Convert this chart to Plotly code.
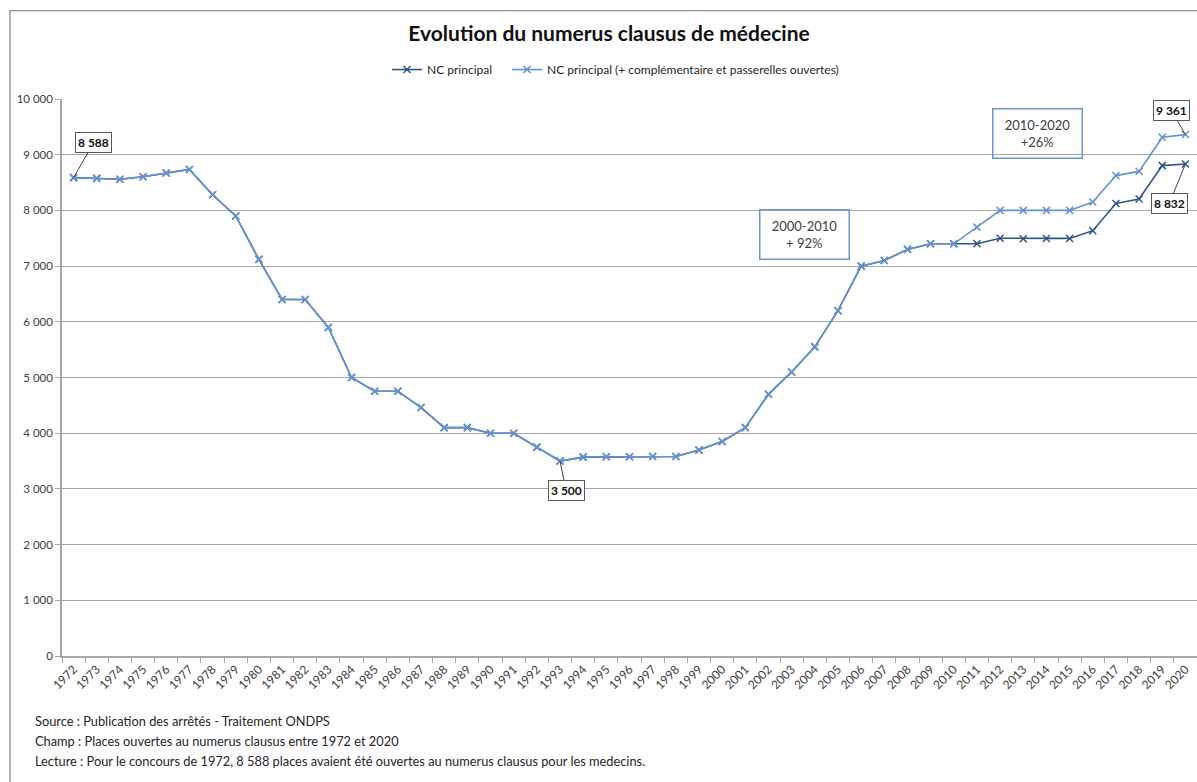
import plotly.graph_objects as go

# Années du concours
years = [str(y) for y in range(1972, 2021)]

# NC principal
nc_principal = [
    8588, 8575, 8560, 8605, 8670, 8735, 8280, 7900, 7121, 6400,
    6400, 5900, 5000, 4754, 4754, 4460, 4100, 4100, 4000, 4000,
    3750, 3500, 3570, 3576, 3576, 3583, 3583, 3700, 3850, 4100,
    4700, 5100, 5550, 6200, 7000, 7100, 7300, 7400, 7400, 7400,
    7500, 7492, 7497, 7497, 7636, 8124, 8205, 8804, 8832,
]

# NC principal + complémentaire et passerelles ouvertes
nc_total = [
    8588, 8575, 8560, 8605, 8670, 8735, 8280, 7900, 7121, 6400,
    6400, 5900, 5000, 4754, 4754, 4460, 4100, 4100, 4000, 4000,
    3750, 3500, 3570, 3576, 3576, 3583, 3583, 3700, 3850, 4100,
    4700, 5100, 5550, 6200, 7000, 7100, 7300, 7400, 7400, 7700,
    8000, 8000, 8000, 8000, 8150, 8625, 8700, 9314, 9361,
]

y_ticks = list(range(0, 10001, 1000))

DARK = "#2F5688"
LIGHT = "#6592D3"
FONT = "Lato"


def fmt(v):
    return f"{v:,}".replace(",", " ")


fig = go.Figure()
fig.add_trace(go.Scatter(
    x=years, y=nc_principal, name="NC principal", mode="lines+markers",
    line=dict(color=DARK, width=1.6), legend="legend", showlegend=True,
    marker=dict(symbol="x-thin", size=7, line=dict(width=1.5, color=DARK)),
))
fig.add_trace(go.Scatter(
    x=years, y=nc_total,
    name="NC principal (+ complémentaire et passerelles ouvertes)",
    mode="lines+markers", legend="legend2", showlegend=True,
    line=dict(color=LIGHT, width=1.6),
    marker=dict(symbol="x-thin", size=7, line=dict(width=1.5, color=LIGHT)),
))

# Étiquettes de valeurs avec trait de rappel (x = rang de la catégorie)
i_min = nc_total.index(min(nc_total))
labels = [
    (0, nc_total[0], 20, -35),
    (i_min, nc_total[i_min], 6, 29),
    (len(years) - 1, nc_total[-1], -14, -24),
    (len(years) - 1, nc_principal[-1], -16, 39),
]
annotations = []
for x, v, ax, ay in labels:
    annotations.append(dict(
        x=x, y=v, xref="x", yref="y", text=f"<b>{fmt(v)}</b>",
        showarrow=True, arrowhead=0, arrowwidth=1, arrowcolor="#404040",
        ax=ax, ay=ay, bgcolor="white", bordercolor="#595959",
        borderwidth=1, borderpad=2,
        font=dict(family=FONT, size=12, color="#111111"),
    ))

# Encadrés d'évolution
for txt, px, py in [("2010-2020<br>+26%", 0.8595, 0.9382),
                    ("2000-2010<br>+ 92%", 0.6542, 0.7572)]:
    annotations.append(dict(
        x=px, y=py, xref="paper", yref="paper", xanchor="center",
        yanchor="middle", text=txt, showarrow=False,
        width=88, height=48, borderpad=0, bordercolor="#6A96D0",
        borderwidth=1.5, bgcolor="rgba(255,255,255,0)",
        font=dict(family=FONT, size=13, color="#404040"),
    ))

# Notes de bas de graphique
notes = [
    "Source : Publication des arrêtés - Traitement ONDPS",
    "Champ : Places ouvertes au numerus clausus entre 1972 et 2020",
    "Lecture : Pour le concours de 1972, 8 588 places avaient été ouvertes au numerus clausus pour les medecins.",
]
for i, t in enumerate(notes):
    annotations.append(dict(
        x=-0.0256, y=(656.5 - (722 + 20 * i)) / 558, xref="paper", yref="paper",
        xanchor="left", yanchor="middle", text=t, showarrow=False,
        font=dict(family=FONT, size=12.8, color="#262626"),
    ))

legend_style = dict(
    orientation="h", y=(656.5 - 69) / 558, xanchor="left", yanchor="middle",
    itemwidth=30, font=dict(family=FONT, size=12, color="#262626"),
    bgcolor="rgba(0,0,0,0)", visible=True,
)

fig.update_layout(
    width=1197, height=782,
    margin=dict(l=62, r=0, t=98.5, b=125.5),
    paper_bgcolor="white", plot_bgcolor="white",
    separators=", ", showlegend=True,
    font=dict(family=FONT, color="#404040"),
    title=dict(
        text="<b>Evolution du numerus clausus de médecine</b>",
        x=609 / 1197, y=1 - 34 / 782, xanchor="center", yanchor="middle",
        font=dict(family=FONT, size=21, color="#111111"),
    ),
    legend=dict(x=(387 - 62) / 1135, **legend_style),
    legend2=dict(x=(507 - 62) / 1135, **legend_style),
    xaxis=dict(
        type="category", tickson="boundaries", ticks="outside", ticklen=5,
        tickcolor="#A6A6A6", tickangle=-45, showgrid=False,
        showline=True, linecolor="#A6A6A6", linewidth=1.5,
        tickfont=dict(family=FONT, size=12, color="#404040"),
        range=[-0.5, 48.5],
    ),
    yaxis=dict(
        range=[0, 10000], tickvals=y_ticks, tickformat=",d",
        showgrid=True, gridcolor="#A6A6A6", gridwidth=1.2,
        zeroline=False, showline=True, linecolor="#A6A6A6", linewidth=1.5,
        ticks="outside", ticklen=5, tickcolor="#A6A6A6",
        tickfont=dict(family=FONT, size=11.5, color="#404040"),
    ),
    annotations=annotations,
    shapes=[dict(
        type="rect", xref="paper", yref="paper",
        x0=(10 - 62) / 1135, x1=1.05, y0=-0.3, y1=(656.5 - 10) / 558,
        line=dict(color="#8C8C8C", width=1.3), fillcolor="rgba(0,0,0,0)",
        layer="below",
    )],
)

fig.write_html("out.html")
